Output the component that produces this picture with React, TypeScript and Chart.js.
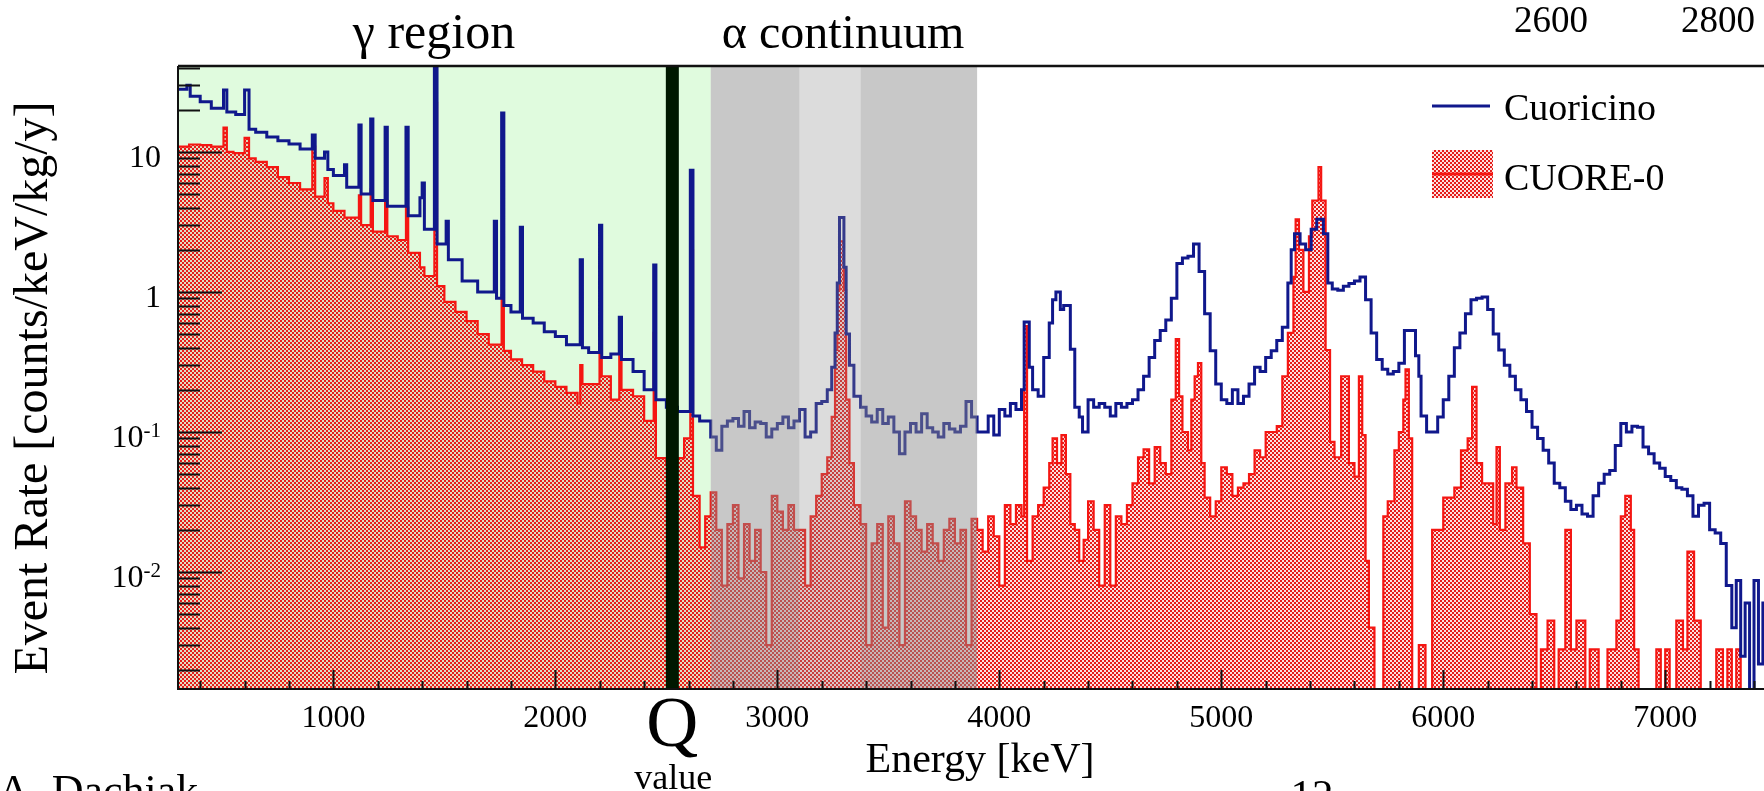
import React, { useEffect, useRef } from 'react';
import { Chart, registerables } from 'chart.js';

Chart.register(...registerables);

// ---------------- data (bin lower edge in keV, rate in counts/keV/kg/y) ----------------
const cuoricinoGamma: [number, number][] = [
  [300, 28], [340, 30], [355, 25], [400, 22.8], [450, 20.5], [505, 27.7], [520, 19.3], [560, 18.5],
  [600, 27.7], [620, 14.5], [650, 13.8], [700, 12.8], [750, 12.0], [800, 11.4], [850, 10.5], [905, 13.2],
  [918, 9.0], [960, 10.0], [975, 7.5], [1000, 6.8], [1050, 8.1], [1060, 5.6], [1115, 15.6], [1125, 5.0],
  [1168, 17.2], [1178, 4.5], [1233, 15], [1243, 4.1], [1327, 15], [1337, 3.5], [1390, 4.7], [1400, 6.0],
  [1410, 2.8], [1455, 60], [1467, 2.2], [1508, 3.2], [1518, 1.7], [1580, 1.2], [1650, 1.0], [1725, 3.2],
  [1735, 0.9], [1758, 19], [1768, 0.8], [1800, 0.72], [1842, 2.9], [1852, 0.65], [1900, 0.6], [1950, 0.52],
  [2000, 0.48], [2050, 0.42], [2112, 1.7], [2122, 0.4], [2150, 0.37], [2199, 3.0], [2209, 0.34], [2250, 0.36],
  [2288, 0.66], [2298, 0.33], [2350, 0.27], [2400, 0.2], [2443, 1.56], [2453, 0.17], [2500, 0.15], [2550, 0.14],
  [2608, 7.4], [2620, 0.13], [2650, 0.12],
];
const cuoricinoAlphaContinuum: [number, number][] = [
  [2700, 0.092], [2725, 0.074], [2750, 0.11], [2775, 0.12], [2800, 0.125], [2825, 0.11], [2850, 0.14],
  [2875, 0.107], [2900, 0.118], [2925, 0.115], [2950, 0.092], [2975, 0.105], [3000, 0.115], [3025, 0.128],
  [3050, 0.107], [3075, 0.12], [3100, 0.145], [3125, 0.092], [3150, 0.1], [3175, 0.16], [3200, 0.165],
  [3225, 0.2], [3245, 0.29], [3260, 0.51], [3270, 1.16], [3280, 3.4], [3300, 1.5], [3310, 0.5], [3325, 0.3],
  [3345, 0.18], [3375, 0.15], [3400, 0.13], [3425, 0.118], [3450, 0.145], [3475, 0.115], [3500, 0.128],
  [3525, 0.1], [3550, 0.07], [3575, 0.1], [3600, 0.115], [3625, 0.1], [3650, 0.135], [3675, 0.107],
  [3700, 0.1], [3725, 0.092], [3750, 0.115], [3775, 0.105], [3800, 0.1], [3825, 0.11], [3850, 0.165],
  [3875, 0.128],
];
const cuoricinoAlpha: [number, number][] = [
  [3900, 0.1], [3925, 0.1], [3950, 0.13], [3975, 0.095], [4000, 0.145], [4025, 0.13], [4050, 0.16],
  [4075, 0.145], [4100, 0.2], [4112, 0.61], [4135, 0.29], [4150, 0.2], [4175, 0.18], [4200, 0.34],
  [4225, 0.6], [4240, 0.88], [4255, 1.0], [4275, 0.75], [4290, 0.8], [4320, 0.39], [4340, 0.15],
  [4360, 0.128], [4375, 0.1], [4400, 0.17], [4425, 0.15], [4450, 0.16], [4475, 0.15], [4500, 0.13],
  [4525, 0.16], [4550, 0.15], [4575, 0.16], [4600, 0.17], [4625, 0.2], [4650, 0.25], [4675, 0.34],
  [4700, 0.45], [4725, 0.53], [4750, 0.63], [4775, 0.9], [4800, 1.6], [4825, 1.75], [4850, 1.8],
  [4875, 2.2], [4900, 1.4], [4925, 0.7], [4950, 0.38], [4975, 0.22], [5000, 0.17], [5025, 0.16],
  [5050, 0.2], [5075, 0.16], [5100, 0.18], [5125, 0.22], [5150, 0.29], [5175, 0.27], [5200, 0.34],
  [5225, 0.38], [5250, 0.45], [5275, 0.56], [5300, 1.16], [5315, 2.0], [5330, 2.6], [5355, 2.2],
  [5380, 2.0], [5405, 2.8], [5430, 3.3], [5460, 2.6], [5480, 1.16], [5500, 1.05], [5525, 1.03],
  [5550, 1.1], [5575, 1.15], [5600, 1.2], [5625, 1.28], [5650, 0.88], [5675, 0.51], [5700, 0.33],
  [5725, 0.28], [5750, 0.26], [5775, 0.27], [5800, 0.31], [5825, 0.53], [5850, 0.53], [5875, 0.35],
  [5890, 0.25], [5900, 0.13], [5925, 0.1], [5950, 0.1], [5975, 0.128], [6000, 0.17], [6025, 0.25],
  [6050, 0.4], [6075, 0.51], [6100, 0.7], [6125, 0.88], [6150, 0.9], [6175, 0.92], [6200, 0.75],
  [6225, 0.5], [6250, 0.385], [6275, 0.3], [6300, 0.25], [6325, 0.2], [6350, 0.17], [6375, 0.14],
  [6400, 0.108], [6425, 0.09], [6450, 0.074], [6475, 0.06], [6500, 0.043], [6525, 0.04], [6550, 0.032],
  [6575, 0.028], [6600, 0.03], [6625, 0.026], [6650, 0.025], [6675, 0.035], [6700, 0.043], [6725, 0.05],
  [6750, 0.053], [6775, 0.08], [6800, 0.115], [6825, 0.1], [6850, 0.11], [6875, 0.108], [6900, 0.078],
  [6925, 0.07], [6950, 0.06], [6975, 0.055], [7000, 0.048], [7025, 0.045], [7050, 0.04], [7075, 0.039],
  [7100, 0.035], [7125, 0.025], [7150, 0.03], [7175, 0.031], [7200, 0.02], [7225, 0.019], [7250, 0.016],
  [7275, 0.008], [7300, 0.004], [7320, 0.0087], [7340, 0.0025], [7360, 0.006], [7380, 0.0001],
  [7400, 0.0087], [7420, 0.0022], [7440, 0.006],
];

const cuore0Gamma: [number, number][] = [
  [300, 10.9], [350, 11.3], [400, 11.2], [450, 10.9], [505, 14.9], [520, 10.0], [550, 9.8], [600, 12.6],
  [620, 9.0], [650, 8.5], [700, 7.8], [750, 6.6], [800, 6.0], [850, 5.4], [905, 10.9], [918, 4.8],
  [960, 6.5], [975, 4.3], [1000, 3.8], [1050, 3.4], [1115, 4.9], [1125, 3.0], [1168, 5.4], [1178, 2.7],
  [1233, 4.5], [1243, 2.5], [1290, 2.35], [1327, 4.0], [1337, 1.9], [1390, 1.5], [1410, 1.3], [1455, 22.4],
  [1467, 1.1], [1500, 0.85], [1550, 0.72], [1600, 0.62], [1650, 0.5], [1700, 0.42], [1758, 0.95],
  [1768, 0.38], [1800, 0.33], [1850, 0.3], [1900, 0.27], [1950, 0.23], [2000, 0.21], [2050, 0.19],
  [2100, 0.16], [2112, 0.3], [2122, 0.22], [2199, 0.55], [2209, 0.25], [2250, 0.17], [2288, 0.4],
  [2298, 0.2], [2350, 0.18], [2400, 0.12], [2443, 0.51], [2453, 0.065], [2500, 0.06], [2550, 0.065],
  [2580, 0.09], [2608, 2.0], [2620, 0.035], [2650, 0.015], [2675, 0.025],
];
const cuore0AlphaContinuum: [number, number][] = [
  [2700, 0.037], [2725, 0.02], [2750, 0.008], [2775, 0.022], [2800, 0.03], [2825, 0.009], [2850, 0.022],
  [2875, 0.012], [2900, 0.02], [2925, 0.01], [2950, 0.003], [2975, 0.035], [3000, 0.027], [3025, 0.02],
  [3050, 0.03], [3075, 0.02], [3100, 0.02], [3125, 0.008], [3150, 0.025], [3175, 0.035], [3200, 0.05],
  [3225, 0.066], [3245, 0.128], [3260, 0.385], [3270, 1.03], [3280, 2.3], [3300, 1.03], [3310, 0.17],
  [3325, 0.06], [3345, 0.03], [3375, 0.022], [3400, 0.003], [3425, 0.016], [3450, 0.022], [3475, 0.004],
  [3500, 0.025], [3525, 0.016], [3550, 0.003], [3575, 0.032], [3600, 0.025], [3625, 0.02], [3650, 0.014],
  [3675, 0.022], [3700, 0.016], [3725, 0.012], [3750, 0.02], [3775, 0.024], [3800, 0.016], [3825, 0.02],
  [3850, 0.003], [3875, 0.024],
];
const cuore0Alpha: [number, number][] = [
  [3900, 0.02], [3925, 0.014], [3950, 0.025], [3975, 0.018], [4000, 0.008], [4025, 0.03], [4050, 0.022],
  [4075, 0.03], [4100, 0.025], [4112, 0.57], [4125, 0.012], [4150, 0.025], [4175, 0.03], [4200, 0.04],
  [4225, 0.06], [4240, 0.09], [4260, 0.06], [4280, 0.095], [4300, 0.05], [4320, 0.022], [4340, 0.02],
  [4360, 0.012], [4380, 0.017], [4400, 0.032], [4425, 0.02], [4450, 0.008], [4475, 0.03], [4500, 0.008],
  [4525, 0.025], [4550, 0.022], [4575, 0.03], [4600, 0.043], [4625, 0.066], [4650, 0.075], [4675, 0.043],
  [4700, 0.078], [4725, 0.06], [4750, 0.05], [4775, 0.17], [4795, 0.46], [4810, 0.18], [4825, 0.1],
  [4850, 0.074], [4865, 0.17], [4880, 0.25], [4895, 0.31], [4910, 0.06], [4925, 0.034], [4950, 0.025],
  [4975, 0.032], [5000, 0.056], [5025, 0.05], [5050, 0.035], [5075, 0.04], [5100, 0.043], [5125, 0.05],
  [5150, 0.074], [5175, 0.066], [5200, 0.1], [5225, 0.1], [5250, 0.11], [5275, 0.25], [5300, 0.51],
  [5325, 1.28], [5335, 3.3], [5350, 2.0], [5370, 1.0], [5395, 2.5], [5410, 4.5], [5438, 7.8], [5450, 4.5],
  [5470, 0.385], [5490, 0.085], [5510, 0.066], [5540, 0.25], [5575, 0.06], [5600, 0.048], [5620, 0.25],
  [5635, 0.095], [5650, 0.012], [5665, 0.004], [5690, 0.0001], [5730, 0.025], [5750, 0.032], [5780, 0.074],
  [5800, 0.1], [5820, 0.17], [5830, 0.28], [5845, 0.09], [5860, 0.0001], [5890, 0.003], [5920, 0.0001],
  [5950, 0.02], [6000, 0.034], [6050, 0.04], [6080, 0.074], [6110, 0.09], [6130, 0.21], [6150, 0.06],
  [6175, 0.043], [6225, 0.022], [6240, 0.078], [6255, 0.02], [6280, 0.043], [6310, 0.056], [6330, 0.04],
  [6360, 0.016], [6390, 0.005], [6420, 0.0001], [6440, 0.0028], [6470, 0.0045], [6500, 0.0001],
  [6520, 0.0028], [6550, 0.02], [6575, 0.0028], [6600, 0.0045], [6640, 0.0001], [6660, 0.0028],
  [6700, 0.0001], [6740, 0.0028], [6780, 0.0045], [6800, 0.025], [6820, 0.035], [6845, 0.02],
  [6860, 0.0028], [6880, 0.0001], [6960, 0.0028], [6980, 0.0001], [7000, 0.0028], [7020, 0.0001],
  [7050, 0.0045], [7080, 0.0028], [7100, 0.014], [7130, 0.0045], [7160, 0.0001], [7230, 0.0028],
  [7260, 0.0001], [7280, 0.0028], [7300, 0.0001], [7320, 0.0028], [7340, 0.0001],
];
const histogramEnd = 7450;

// axes
const X_MIN = 300;
const X_MAX = 7445;
const Y_MIN = 0.00146;
const Y_MAX = 41.1;
const xMajorTicks = [1000, 2000, 3000, 4000, 5000, 6000, 7000];
const xTickLabels = ['1000', '2000', '3000', '4000', '5000', '6000', '7000'];
const xMinorStep = 200;
const yDecades = [0.01, 0.1, 1, 10];
const yTickBase = ['10', '10', '1', '10'];
const yTickExp = ['-2', '-1', '', ''];

// regions (keV)
const gammaRegion = [300, 2700];
const alphaDarkBands = [[2700, 3100], [3375, 3900]];
const alphaLightBand = [3100, 3375];
const qValue = 2527;

const seriesNames = ['Cuoricino', 'CUORE-0'];

// ---------------- styling ----------------
const W = 1764;
const H = 791;
const FONT = '"Liberation Serif", "Times New Roman", Times, serif';
const BLUE = 'rgb(16,24,140)';
const RED = 'rgb(245,22,18)';
const GREEN_BG = 'rgb(224,251,222)';

function toSteps(parts: [number, number][][], end: number) {
  const pts: { x: number; y: number }[] = [];
  parts.forEach((p) => p.forEach(([x, y]) => pts.push({ x, y })));
  pts.push({ x: end, y: pts[pts.length - 1].y });
  return pts;
}

function makeHatch(): CanvasPattern | string {
  const c = document.createElement('canvas');
  c.width = 4;
  c.height = 4;
  const g = c.getContext('2d');
  if (!g) return 'rgba(230,40,36,0.6)';
  g.fillStyle = 'rgba(236,40,36,0.14)';
  g.fillRect(0, 0, 4, 4);
  g.clearRect(0, 0, 4, 4);
  g.fillStyle = 'rgba(236,40,36,0.14)';
  g.fillRect(2, 0, 2, 2);
  g.fillRect(0, 2, 2, 2);
  g.fillStyle = 'rgb(230,28,26)';
  g.fillRect(0, 0, 2, 2);
  g.fillRect(2, 2, 2, 2);
  return g.createPattern(c, 'repeat') || 'rgba(230,40,36,0.6)';
}

export default function App() {
  const ref = useRef<HTMLCanvasElement | null>(null);

  useEffect(() => {
    const canvas = ref.current;
    if (!canvas) return;
    const hatch = makeHatch();

    const decor = {
      id: 'decor',
      beforeDraw(chart: any) {
        const { ctx } = chart;
        ctx.save();
        ctx.fillStyle = '#ffffff';
        ctx.fillRect(0, 0, chart.width, chart.height);
        ctx.restore();
      },
      beforeDatasetsDraw(chart: any) {
        const { ctx, chartArea: a } = chart;
        const x = chart.scales.x;
        const x0 = x.getPixelForValue(gammaRegion[0]);
        const x1 = x.getPixelForValue(gammaRegion[1]);
        ctx.save();
        ctx.fillStyle = GREEN_BG;
        ctx.fillRect(x0, a.top, x1 - x0, a.bottom - a.top);
        ctx.restore();
      },
      afterDatasetsDraw(chart: any) {
        const { ctx, chartArea: a } = chart;
        const x = chart.scales.x;
        const y = chart.scales.y;
        ctx.save();
        // gray overlays for alpha continuum
        ctx.fillStyle = 'rgba(140,140,140,0.48)';
        alphaDarkBands.forEach(([e0, e1]) => {
          const p0 = x.getPixelForValue(e0);
          const p1 = x.getPixelForValue(e1);
          ctx.fillRect(p0, a.top, p1 - p0, a.bottom - a.top);
        });
        ctx.fillStyle = 'rgba(140,140,140,0.30)';
        {
          const p0 = x.getPixelForValue(alphaLightBand[0]);
          const p1 = x.getPixelForValue(alphaLightBand[1]);
          ctx.fillRect(p0, a.top, p1 - p0, a.bottom - a.top);
        }
        // Q value line
        const qx = x.getPixelForValue(qValue);
        ctx.fillStyle = 'rgb(0,24,0)';
        ctx.fillRect(qx - 6.5, a.top, 13, a.bottom - a.top);

        // frame
        ctx.strokeStyle = '#111';
        ctx.lineWidth = 2.5;
        ctx.beginPath();
        ctx.moveTo(a.left, a.top);
        ctx.lineTo(a.right, a.top);
        ctx.stroke();
        ctx.lineWidth = 2;
        ctx.beginPath();
        ctx.moveTo(a.left, a.top);
        ctx.lineTo(a.left, a.bottom);
        ctx.lineTo(a.right, a.bottom);
        ctx.stroke();

        // x ticks
        ctx.lineWidth = 2;
        ctx.beginPath();
        for (let v = Math.ceil(X_MIN / xMinorStep) * xMinorStep; v <= X_MAX; v += xMinorStep) {
          const px = Math.round(x.getPixelForValue(v)) + 0.5;
          const len = v % 1000 === 0 ? 19 : 8;
          ctx.moveTo(px, a.bottom);
          ctx.lineTo(px, a.bottom - len);
        }
        ctx.stroke();
        // y ticks
        ctx.beginPath();
        for (let d = 0.001; d < 100; d *= 10) {
          for (let k = 1; k <= 9; k++) {
            const v = k * d;
            if (v < Y_MIN || v > Y_MAX) continue;
            const py = Math.round(y.getPixelForValue(v)) + 0.5;
            const len = k === 1 ? 44 : 22;
            ctx.moveTo(a.left, py);
            ctx.lineTo(a.left + len, py);
          }
        }
        ctx.stroke();

        // tick labels
        ctx.fillStyle = '#000';
        ctx.textBaseline = 'alphabetic';
        ctx.font = `32px ${FONT}`;
        ctx.textAlign = 'center';
        xMajorTicks.forEach((v, i) => {
          ctx.fillText(xTickLabels[i], x.getPixelForValue(v), 727);
        });
        const labelRight = 161;
        yDecades.forEach((v, i) => {
          const py = y.getPixelForValue(v);
          let supW = 0;
          if (yTickExp[i]) {
            ctx.font = `21px ${FONT}`;
            supW = ctx.measureText(yTickExp[i]).width;
            ctx.textAlign = 'left';
            ctx.fillText(yTickExp[i], labelRight - supW, py + 5);
          }
          ctx.font = `32px ${FONT}`;
          ctx.textAlign = 'right';
          ctx.fillText(yTickBase[i], labelRight - supW, py + 15);
        });

        // axis titles
        ctx.font = `42px ${FONT}`;
        ctx.textAlign = 'center';
        ctx.fillText('Energy [keV]', 980, 772);
        ctx.save();
        ctx.translate(47, 388);
        ctx.rotate(-Math.PI / 2);
        ctx.font = `48px ${FONT}`;
        ctx.fillText('Event Rate [counts/keV/kg/y]', 0, 0);
        ctx.restore();

        // legend
        ctx.strokeStyle = BLUE;
        ctx.lineWidth = 3;
        ctx.beginPath();
        ctx.moveTo(1432, 106);
        ctx.lineTo(1490, 106);
        ctx.stroke();
        ctx.fillStyle = hatch as any;
        ctx.fillRect(1432, 150, 61, 48);
        ctx.strokeStyle = RED;
        ctx.beginPath();
        ctx.moveTo(1432, 174);
        ctx.lineTo(1493, 174);
        ctx.stroke();
        ctx.fillStyle = '#000';
        ctx.font = `38px ${FONT}`;
        ctx.textAlign = 'left';
        ctx.fillText(seriesNames[0], 1504, 120);
        ctx.fillText(seriesNames[1], 1504, 190);

        // annotations
        ctx.textAlign = 'center';
        ctx.font = `50px ${FONT}`;
        ctx.fillText('\u03b3 region', 434, 48);
        ctx.font = `48px ${FONT}`;
        ctx.fillText('\u03b1 continuum', 843, 48);
        ctx.font = `37px ${FONT}`;
        ctx.fillText('2600', 1551, 32);
        ctx.fillText('2800', 1718, 32);
        ctx.font = `72px ${FONT}`;
        ctx.fillText('Q', qx, 746);
        ctx.font = `36px ${FONT}`;
        ctx.fillText('value', qx + 1, 789);
        ctx.font = `43px ${FONT}`;
        ctx.fillText('12', 1312, 809);
        ctx.textAlign = 'left';
        ctx.font = `44px ${FONT}`;
        ctx.fillText('A. Dachiak', -2, 805);
        ctx.restore();
      },
    };

    const chart = new Chart(canvas, {
      type: 'line',
      data: {
        datasets: [
          {
            label: seriesNames[0],
            data: toSteps([cuoricinoGamma, cuoricinoAlphaContinuum, cuoricinoAlpha], histogramEnd),
            borderColor: BLUE,
            borderWidth: 3,
            pointRadius: 0,
            stepped: 'before',
            fill: false,
            clip: 0,
          },
          {
            label: seriesNames[1],
            data: toSteps([cuore0Gamma, cuore0AlphaContinuum, cuore0Alpha], histogramEnd),
            borderColor: RED,
            borderWidth: 2.2,
            backgroundColor: hatch as any,
            pointRadius: 0,
            stepped: 'before',
            fill: 'start',
            clip: 0,
          },
        ],
      },
      options: {
        animation: false,
        responsive: false,
        devicePixelRatio: 1,
        events: [],
        layout: { padding: { left: 178, top: 66, right: 0, bottom: 102 } },
        scales: {
          x: { type: 'linear', min: X_MIN, max: X_MAX, display: false, bounds: 'data' },
          y: { type: 'logarithmic', min: Y_MIN, max: Y_MAX, display: false, bounds: 'data' },
        },
        plugins: { legend: { display: false }, tooltip: { enabled: false } },
      } as any,
      plugins: [decor],
    } as any);

    return () => chart.destroy();
  }, []);

  return (
    <div style={{ position: 'absolute', left: 0, top: 0, width: W, height: H, overflow: 'hidden', background: '#fff' }}>
      <canvas ref={ref} width={W} height={H} style={{ display: 'block', width: W, height: H }} />
    </div>
  );
}
